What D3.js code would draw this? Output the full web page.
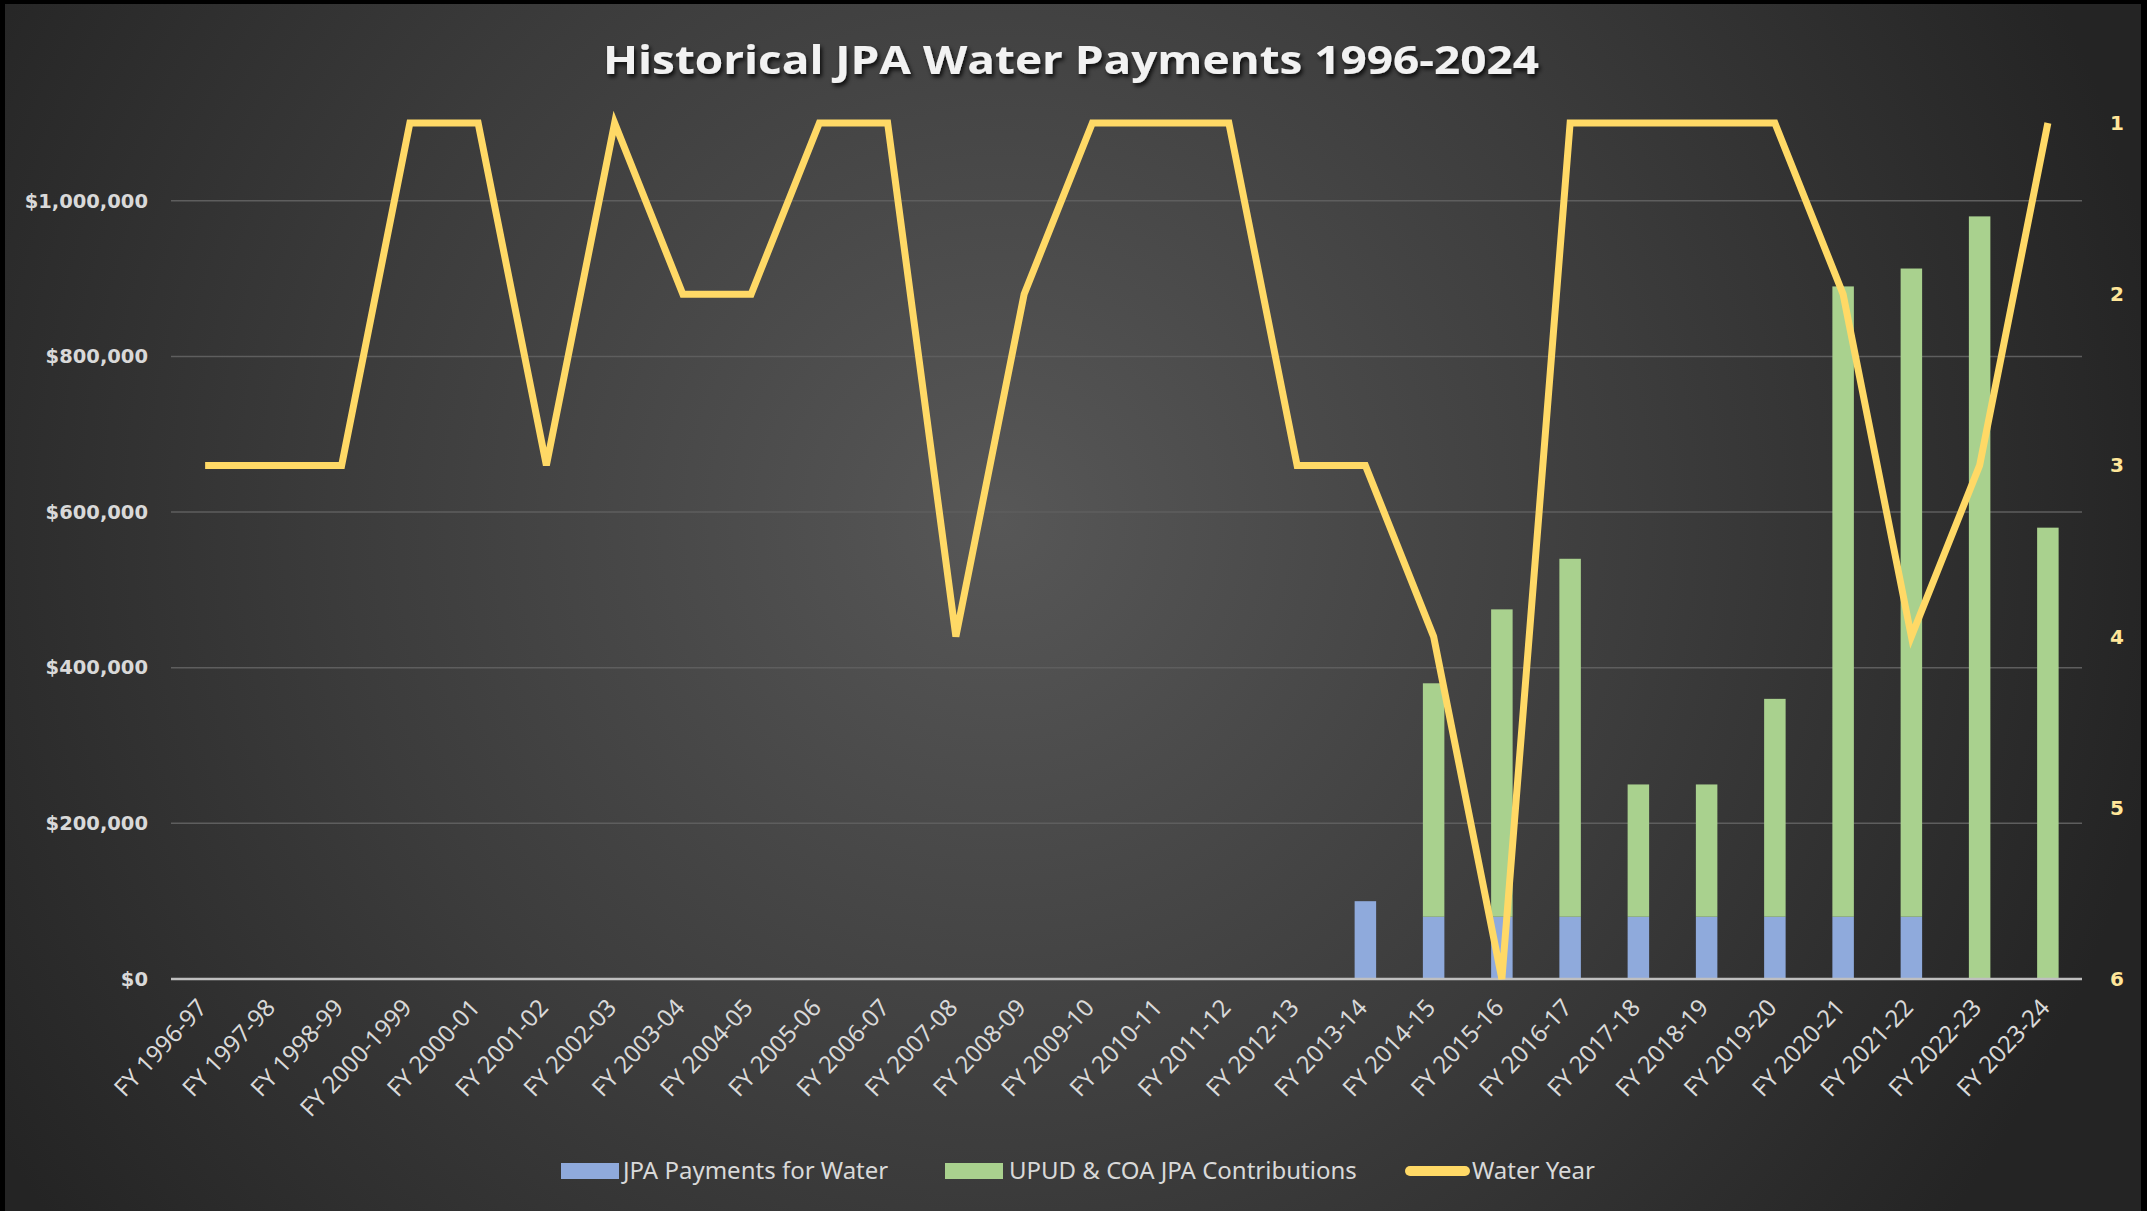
<!DOCTYPE html>
<html>
<head>
<meta charset="utf-8">
<script src="https://cdn.jsdelivr.net/npm/d3@7"></script>
<style>
body { margin: 0; background: #000; }
</style>
</head>
<body>
<script>
var years = ['FY 1996-97', 'FY 1997-98', 'FY 1998-99', 'FY 2000-1999', 'FY 2000-01', 'FY 2001-02',
    'FY 2002-03', 'FY 2003-04', 'FY 2004-05', 'FY 2005-06', 'FY 2006-07', 'FY 2007-08', 'FY 2008-09',
    'FY 2009-10', 'FY 2010-11', 'FY 2011-12', 'FY 2012-13', 'FY 2013-14', 'FY 2014-15', 'FY 2015-16',
    'FY 2016-17', 'FY 2017-18', 'FY 2018-19', 'FY 2019-20', 'FY 2020-21', 'FY 2021-22', 'FY 2022-23',
    'FY 2023-24'];

var jpaPayments = [0, 0, 0, 0, 0, 0, 0, 0, 0, 0, 0, 0, 0, 0, 0, 0, 0,
    100000, 80000, 80000, 80000, 80000, 80000, 80000, 80000, 80000, 0, 0];

var contributions = [0, 0, 0, 0, 0, 0, 0, 0, 0, 0, 0, 0, 0, 0, 0, 0, 0,
    0, 300000, 395000, 460000, 170000, 170000, 280000, 810000, 833000, 980000, 580000];

var waterYear = [3, 3, 3, 1, 1, 3, 1, 2, 2, 1, 1, 4, 2, 1, 1, 1, 3, 3, 4, 6, 1, 1, 1, 1, 2, 4, 3, 1];

var moneyTicks = [0, 200000, 400000, 600000, 800000, 1000000];
var waterTicks = [1, 2, 3, 4, 5, 6];

var seriesNames = ['JPA Payments for Water', 'UPUD & COA JPA Contributions', 'Water Year'];
var seriesColors = ['#8faadc', '#a9d18e', '#ffd966'];

var width = 2147, height = 1211;
var plotLeft = 171, plotRight = 2082, plotTop = 123, plotBottom = 979;

var svg = d3.select('body').append('svg')
    .attr('width', width)
    .attr('height', height);

var defs = svg.append('defs');

var grad = defs.append('radialGradient')
    .attr('id', 'bg')
    .attr('gradientUnits', 'userSpaceOnUse')
    .attr('cx', 1000)
    .attr('cy', 520)
    .attr('r', 1180);
grad.append('stop').attr('offset', 0).attr('stop-color', '#575757');
grad.append('stop').attr('offset', 0.55).attr('stop-color', '#3c3c3c');
grad.append('stop').attr('offset', 1).attr('stop-color', '#242424');

var shadow = defs.append('filter')
    .attr('id', 'shadow')
    .attr('x', '-10%').attr('y', '-30%')
    .attr('width', '120%').attr('height', '160%');
shadow.append('feDropShadow')
    .attr('dx', 2).attr('dy', 3)
    .attr('stdDeviation', 2)
    .attr('flood-color', '#000')
    .attr('flood-opacity', 0.8);

svg.append('rect')
    .attr('x', 5)
    .attr('y', 4)
    .attr('width', width - 11)
    .attr('height', height - 4)
    .attr('fill', 'url(#bg)');

var x = d3.scaleBand()
    .domain(years)
    .range([plotLeft, plotRight])
    .paddingInner(0.685)
    .paddingOuter(0.3425);

var y = d3.scaleLinear()
    .domain([0, 1100000])
    .range([plotBottom, plotTop]);

var y2 = d3.scaleLinear()
    .domain([1, 6])
    .range([plotTop, plotBottom]);

// gridlines
svg.append('g')
    .selectAll('line')
    .data(moneyTicks.slice(1))
    .join('line')
    .attr('x1', plotLeft)
    .attr('x2', plotRight)
    .attr('y1', function(d) { return y(d); })
    .attr('y2', function(d) { return y(d); })
    .attr('stroke', '#5e5e5e')
    .attr('stroke-width', 1.5);

// left axis
var yAxis = svg.append('g')
    .attr('transform', 'translate(' + (plotLeft - 20) + ',0)')
    .call(d3.axisLeft(y).tickValues(moneyTicks).tickSize(0).tickFormat(function(d) { return '$' + d3.format(',')(d); }));
yAxis.select('.domain').remove();
yAxis.selectAll('text')
    .attr('fill', '#d9d9d9')
    .attr('font-family', 'DejaVu Sans, Verdana, sans-serif')
    .attr('font-weight', 'bold')
    .attr('font-size', 19.5);

// right axis
var y2Axis = svg.append('g')
    .attr('transform', 'translate(' + (plotRight + 25) + ',0)')
    .call(d3.axisRight(y2).tickValues(waterTicks).tickSize(0).tickFormat(d3.format('d')));
y2Axis.select('.domain').remove();
y2Axis.selectAll('text')
    .attr('fill', '#ffe699')
    .attr('font-family', 'DejaVu Sans, Verdana, sans-serif')
    .attr('font-weight', 'bold')
    .attr('font-size', 20);

// stacked bars
var rows = years.map(function(d, i) {
    return { year: d, jpa: jpaPayments[i], contrib: contributions[i] };
});
var stacked = d3.stack().keys(['jpa', 'contrib'])(rows);

svg.append('g')
    .selectAll('g')
    .data(stacked)
    .join('g')
    .attr('fill', function(d, i) { return seriesColors[i]; })
    .selectAll('rect')
    .data(function(d) { return d; })
    .join('rect')
    .attr('x', function(d) { return x(d.data.year); })
    .attr('width', x.bandwidth())
    .attr('y', function(d) { return y(d[1]); })
    .attr('height', function(d) { return y(d[0]) - y(d[1]); });

// baseline
svg.append('line')
    .attr('x1', plotLeft)
    .attr('x2', plotRight)
    .attr('y1', plotBottom)
    .attr('y2', plotBottom)
    .attr('stroke', '#bfbfbf')
    .attr('stroke-width', 2.5);

// x labels
var xAxis = svg.append('g')
    .attr('transform', 'translate(0,' + plotBottom + ')')
    .call(d3.axisBottom(x).tickSize(0).tickPadding(0));
xAxis.select('.domain').remove();
xAxis.selectAll('text')
    .attr('fill', '#d9d9d9')
    .attr('font-family', '"Noto Sans", sans-serif')
    .attr('font-size', 24)
    .attr('text-anchor', 'end')
    .attr('dy', '0.35em')
    .attr('transform', 'translate(-3,24) rotate(-47)');

// water year line
var line = d3.line()
    .x(function(d, i) { return x(years[i]) + x.bandwidth() / 2; })
    .y(function(d) { return y2(d); });

svg.append('path')
    .datum(waterYear)
    .attr('d', line)
    .attr('fill', 'none')
    .attr('stroke', seriesColors[2])
    .attr('stroke-width', 7)
    .attr('stroke-linejoin', 'miter');

// title
svg.append('text')
    .attr('x', 1071)
    .attr('y', 74)
    .attr('text-anchor', 'middle')
    .attr('fill', '#f2f2f2')
    .attr('font-family', '"Open Sans", sans-serif')
    .attr('font-weight', 'bold')
    .attr('font-size', 40)
    .attr('textLength', 936)
    .attr('lengthAdjust', 'spacingAndGlyphs')
    .attr('filter', 'url(#shadow)')
    .text('Historical JPA Water Payments 1996-2024');

// legend
var legendX = [561, 945, 1405];
var legendY = 1171;
var legend = svg.append('g')
    .selectAll('g')
    .data(seriesNames)
    .join('g')
    .attr('transform', function(d, i) { return 'translate(' + legendX[i] + ',' + legendY + ')'; });

legend.filter(function(d, i) { return i < 2; })
    .append('rect')
    .attr('x', 0)
    .attr('y', -8)
    .attr('width', 58)
    .attr('height', 16)
    .attr('fill', function(d, i) { return seriesColors[i]; });

legend.filter(function(d, i) { return i == 2; })
    .append('line')
    .attr('x1', 5)
    .attr('x2', 60)
    .attr('y1', 0)
    .attr('y2', 0)
    .attr('stroke', seriesColors[2])
    .attr('stroke-width', 10)
    .attr('stroke-linecap', 'round');

legend.append('text')
    .attr('x', function(d, i) { return i == 2 ? 67 : i == 1 ? 64 : 62; })
    .attr('y', 0)
    .attr('dy', '0.35em')
    .attr('fill', '#d9d9d9')
    .attr('font-family', '"Noto Sans", sans-serif')
    .attr('font-size', 24)
    .text(function(d) { return d; });
</script>
</body>
</html>
